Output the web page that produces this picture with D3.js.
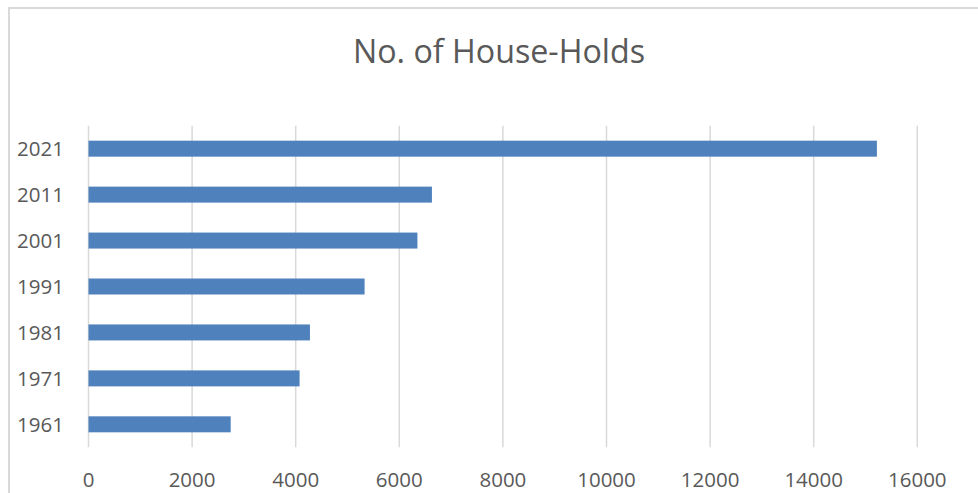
<!DOCTYPE html>
<html>
<head>
<meta charset="utf-8">
<script src="https://cdn.jsdelivr.net/npm/d3@7"></script>
<style>
  html, body { margin: 0; padding: 0; background: #ffffff; }
  svg { display: block; }
</style>
</head>
<body>
<svg id="chart" width="978" height="493"></svg>
<script>
const categories = ["2021", "2011", "2001", "1991", "1981", "1971", "1961"];
const households = [15220, 6630, 6350, 5330, 4275, 4075, 2745];
const xTicks = [0, 2000, 4000, 6000, 8000, 10000, 12000, 14000, 16000];
const chartTitle = "No. of House-Holds";

(function () {
const data = categories.map((c, i) => ({ year: c, value: households[i] }));

const svg = d3.select("#chart");
const W = 978, H = 493;
const font = "'Open Sans', 'Noto Sans', sans-serif";
const textColor = "#595959";

// chart area border
svg.append("rect")
  .attr("x", 9).attr("y", 8)
  .attr("width", W + 20).attr("height", H + 20)
  .attr("fill", "#ffffff")
  .attr("stroke", "#d9d9d9")
  .attr("stroke-width", 2);

const pLeft = 88.5, pRight = 917.3, pTop = 125.7, pBottom = 447.3;

const x = d3.scaleLinear().domain([0, 16000]).range([pLeft, pRight]);
const y = d3.scaleBand().domain(categories).range([pTop, pBottom])
  .paddingInner(0.652).paddingOuter(0.326);

// gridlines
svg.append("g").selectAll("line").data(xTicks).join("line")
  .attr("x1", d => x(d)).attr("x2", d => x(d))
  .attr("y1", pTop).attr("y2", pBottom)
  .attr("stroke", "#d9d9d9").attr("stroke-width", 1.5);

// bars
svg.append("g").selectAll("rect").data(data).join("rect")
  .attr("x", x(0))
  .attr("y", d => y(d.year))
  .attr("width", d => x(d.value) - x(0))
  .attr("height", y.bandwidth())
  .attr("fill", "#4f81bd");

// y labels
svg.append("g").selectAll("text").data(categories).join("text")
  .attr("x", 64)
  .attr("y", d => y(d) + y.bandwidth() / 2)
  .attr("dy", "0.36em")
  .attr("text-anchor", "end")
  .attr("font-family", font)
  .attr("font-size", 20.5)
  .attr("fill", textColor)
  .text(d => d);

// x labels
svg.append("g").selectAll("text").data(xTicks).join("text")
  .attr("x", d => x(d))
  .attr("y", 486.5)
  .attr("text-anchor", "middle")
  .attr("font-family", font)
  .attr("font-size", 20.5)
  .attr("fill", textColor)
  .text(d => d);

// title
svg.append("text")
  .attr("x", 499)
  .attr("y", 63.3)
  .attr("text-anchor", "middle")
  .attr("font-family", font)
  .attr("font-size", 32)
  .attr("fill", textColor)
  .attr("textLength", 292)
  .attr("lengthAdjust", "spacingAndGlyphs")
  .text(chartTitle);
})();
</script>
</body>
</html>
